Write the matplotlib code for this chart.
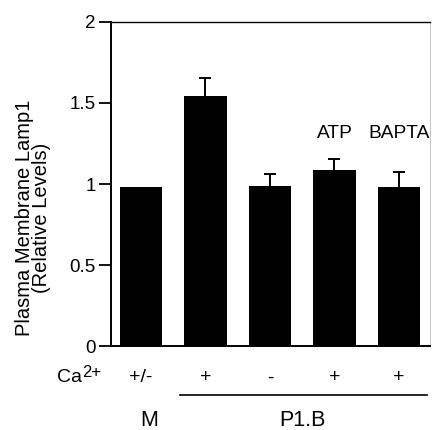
import matplotlib
matplotlib.use("Agg")
import matplotlib.pyplot as plt

plt.rcParams['font.family'] = ['Liberation Sans', 'DejaVu Sans']

# values
groups = ['M', 'P1.B', 'P1.B', 'P1.B', 'P1.B']
calcium = ['+/-', '+', '-', '+', '+']
treatment = ['', '', '', 'ATP', 'BAPTA']
levels = [0.98, 1.545, 0.99, 1.085, 0.98]
errors = [0.0, 0.11, 0.075, 0.07, 0.095]

fig = plt.figure(figsize=(4.32, 4.30), dpi=100)
ax = fig.add_axes([0.257, 0.195, 0.738, 0.754])

pos = list(range(len(levels)))
ax.bar(pos, levels, width=0.66, color='black', zorder=2)
ax.errorbar(pos[1:], levels[1:], yerr=[[0.3]*4, errors[1:]], fmt='none',
            ecolor='black', elinewidth=1.4, capsize=4.5, capthick=1.4, zorder=1)

for i in pos:
    if treatment[i]:
        ax.text(i, 1.31, treatment[i], ha='center', va='center', fontsize=13.8)

ax.set_xlim(-0.465, 4.48)
ax.set_ylim(0, 2)
ax.set_yticks([0, 0.5, 1, 1.5, 2])
ax.set_yticklabels(['0', '0.5', '1', '1.5', '2'], fontsize=13.5)
ax.set_xticks([])
ax.tick_params(axis='y', direction='out', length=9, width=1.3, pad=2)

ax.spines['left'].set_linewidth(1.4)
ax.spines['bottom'].set_linewidth(1.4)
ax.spines['top'].set_linewidth(1.0)
ax.spines['right'].set_linewidth(0.6)
ax.spines['right'].set_color('#bbbbbb')

fig.text(33 / 432, 1 - 218 / 430, 'Plasma Membrane Lamp1\n(Relative Levels)',
         rotation=90, ha='center', va='center', multialignment='center',
         fontsize=14.5, linespacing=0.85)

# labels below the axis
trans = ax.get_xaxis_transform()
ax.text(-0.915, -0.098, 'Ca', transform=trans, ha='right', va='center',
        fontsize=14)
ax.text(-0.915, -0.082, '2+', transform=trans, ha='left', va='center',
        fontsize=12)
for i in pos:
    ax.text(i, -0.098, calcium[i], transform=trans, ha='center', va='center',
            fontsize=14)
ax.plot([0.6, 4.43], [-0.151, -0.151], transform=trans, color='black',
        lw=1.2, clip_on=False)
ax.text(0.12, -0.228, groups[0], transform=trans, ha='center', va='center',
        fontsize=15.5)
ax.text(2.51, -0.228, groups[1], transform=trans, ha='center', va='center',
        fontsize=15.5)

fig.savefig('out.png', dpi=100)
